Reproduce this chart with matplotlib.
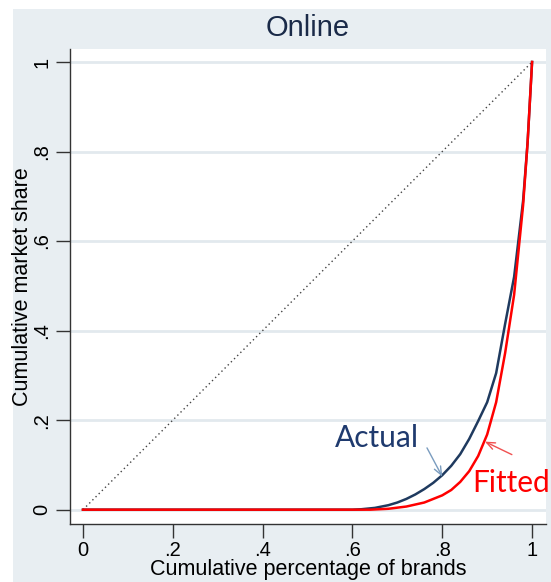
import matplotlib
matplotlib.use("Agg")
import matplotlib.pyplot as plt

# Lorenz-style concentration curves for the online channel
share_x = [0.0, 0.60, 0.62, 0.65, 0.68, 0.70, 0.72, 0.74, 0.76, 0.78, 0.80,
           0.82, 0.84, 0.86, 0.88, 0.90, 0.92, 0.94, 0.96, 0.98, 0.99, 1.0]
actual_y = [0.0, 0.0, 0.001, 0.004, 0.010, 0.016, 0.024, 0.034, 0.046, 0.060, 0.077,
            0.098, 0.124, 0.158, 0.198, 0.240, 0.305, 0.415, 0.520, 0.690, 0.820, 1.0]

fit_x = [0.0, 0.64, 0.68, 0.72, 0.76, 0.80, 0.82, 0.84, 0.86, 0.88, 0.90,
         0.92, 0.94, 0.96, 0.98, 0.99, 1.0]
fitted_y = [0.0, 0.0, 0.002, 0.007, 0.016, 0.032, 0.044, 0.062, 0.086, 0.120, 0.168,
            0.240, 0.350, 0.480, 0.680, 0.820, 1.0]

equality = [0.0, 1.0]
ticks = [0.0, 0.2, 0.4, 0.6, 0.8, 1.0]
tick_labels = ["0", ".2", ".4", ".6", ".8", "1"]

W, H = 551, 582
fig = plt.figure(figsize=(W / 100, H / 100), dpi=100)
fig.patch.set_facecolor("white")

# Shaded graph region behind the plot
bg = fig.add_axes([12.5 / W, 0, 1 - 12.5 / W, 1 - 8.8 / H])
bg.set_facecolor("#E8EEF2")
for s in bg.spines.values():
    s.set_visible(False)
bg.set_xticks([])
bg.set_yticks([])

ax_left, ax_right, ax_top, ax_bot = 69.5, 546, 49, 524
ax = fig.add_axes([ax_left / W, 1 - ax_bot / H,
                   (ax_right - ax_left) / W, (ax_bot - ax_top) / H])
ax.set_facecolor("white")
ax.set_xlim(-0.030, 1.031)
ax.set_ylim(-0.032, 1.029)

ax.set_yticks(ticks)
ax.set_xticks(ticks)
ax.set_xticklabels(tick_labels, fontsize=14.5, family="Liberation Sans")
ax.set_yticklabels(tick_labels, fontsize=14.5, family="Liberation Sans",
                   rotation=90, va="center", ha="center")
ax.tick_params(axis="both", length=10, width=1, color="#333333")
ax.tick_params(axis="x", pad=2)
ax.tick_params(axis="y", pad=10)
ax.grid(axis="y", color="#E2E9EE", linewidth=2)
ax.set_axisbelow(True)

for side in ("top", "right"):
    ax.spines[side].set_visible(False)
for side in ("left", "bottom"):
    ax.spines[side].set_color("#333333")
    ax.spines[side].set_linewidth(1)

ax.plot(equality, equality, color="#444444", linestyle=(0, (1, 2.2)), linewidth=1)
ax.plot(share_x, actual_y, color="#1F3A5F", linewidth=1.8)
ax.plot(fit_x, fitted_y, color="#FF0000", linewidth=1.8)

ax.set_xlabel("Cumulative percentage of brands", fontsize=15.5,
              family="Liberation Sans", va="center")
ax.xaxis.set_label_coords(0.5, -(570 - ax_bot) / (ax_bot - ax_top))
ax.set_ylabel("Cumulative market share", fontsize=15.5,
              family="Liberation Sans", va="center")
ax.yaxis.set_label_coords(-(ax_left - 23) / (ax_right - ax_left), 0.5)
ax.set_title("Online", fontsize=21, family="Liberation Sans", color="#1A2A48",
             pad=9)

# Callouts for the two curves
ax.text(0.561, 0.160, "Actual", fontsize=21.5, family="Lato", color="#1F3A6E",
        ha="left", va="center")
ax.annotate("", xy=(0.800, 0.074), xytext=(0.766, 0.138),
            arrowprops=dict(arrowstyle="->,head_length=0.6,head_width=0.25",
                            color="#7A9CBF", lw=1, shrinkA=0, shrinkB=0))
ax.text(0.866, 0.060, "Fitted", fontsize=21.5, family="Lato", color="#FF0000",
        ha="left", va="center")
ax.annotate("", xy=(0.895, 0.152), xytext=(0.955, 0.123),
            arrowprops=dict(arrowstyle="->,head_length=0.6,head_width=0.25",
                            color="#F05050", lw=1, shrinkA=0, shrinkB=0))

fig.savefig("out.png", dpi=100, facecolor=fig.get_facecolor())
